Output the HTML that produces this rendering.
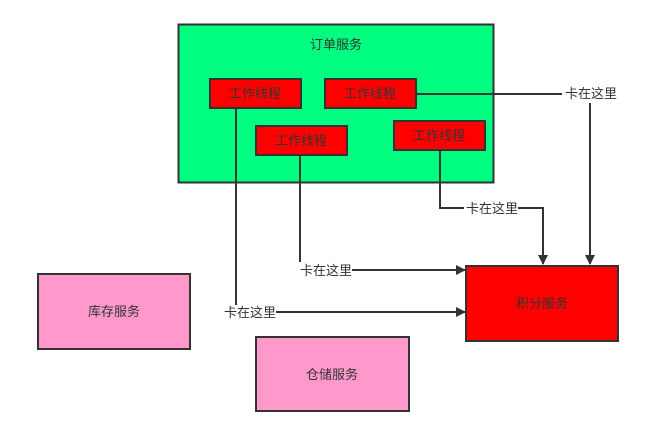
<!DOCTYPE html>
<html><head><meta charset="utf-8"><style>
body{margin:0;background:#fff;width:667px;height:438px;overflow:hidden}
svg text{font-family:"Liberation Sans","Noto Sans CJK SC",sans-serif;font-size:13px;fill:#333}
</style></head><body>
<svg width="667" height="438" viewBox="0 0 667 438">
<defs><marker id="a" markerWidth="10" markerHeight="10" refX="9" refY="5" orient="auto" markerUnits="userSpaceOnUse"><path d="M0,0 L10,5 L0,10 Z" fill="#333"/></marker></defs>
<rect x="178.5" y="24.5" width="315" height="158" fill="#00ff80" stroke="#333" stroke-width="2"/>
<text x="336" y="49" text-anchor="middle">订单服务</text>
<g stroke="#333" stroke-width="2" fill="#ff0000">
<rect x="210" y="79" width="91" height="29"/>
<rect x="325" y="79" width="91" height="29"/>
<rect x="256" y="126" width="91" height="29"/>
<rect x="394" y="121" width="91" height="29"/>
<rect x="466" y="266" width="152" height="75"/>
<rect x="38" y="274" width="152" height="75" fill="#ff99cc"/>
<rect x="256" y="337" width="153" height="74" fill="#ff99cc"/>
</g>
<g text-anchor="middle">
<text x="255" y="98">工作线程</text>
<text x="370" y="98">工作线程</text>
<text x="301" y="145">工作线程</text>
<text x="439" y="140">工作线程</text>
<text x="542" y="308">积分服务</text>
<text x="114" y="316">库存服务</text>
<text x="332" y="379">仓储服务</text>
</g>
<g stroke="#333" stroke-width="2" fill="none">
<path d="M416,94 H562"/>
<path d="M590,103 V264" marker-end="url(#a)"/>
<path d="M440,150 V208 H464"/>
<path d="M518,208 H543 V264" marker-end="url(#a)"/>
<path d="M300,155 V262"/>
<path d="M352,270 H465" marker-end="url(#a)"/>
<path d="M236,108 V305"/>
<path d="M276,312 H465" marker-end="url(#a)"/>
</g>
<g text-anchor="middle">
<text x="591" y="98">卡在这里</text>
<text x="492" y="213">卡在这里</text>
<text x="326" y="275">卡在这里</text>
<text x="250" y="317">卡在这里</text>
</g>
</svg>
</body></html>
